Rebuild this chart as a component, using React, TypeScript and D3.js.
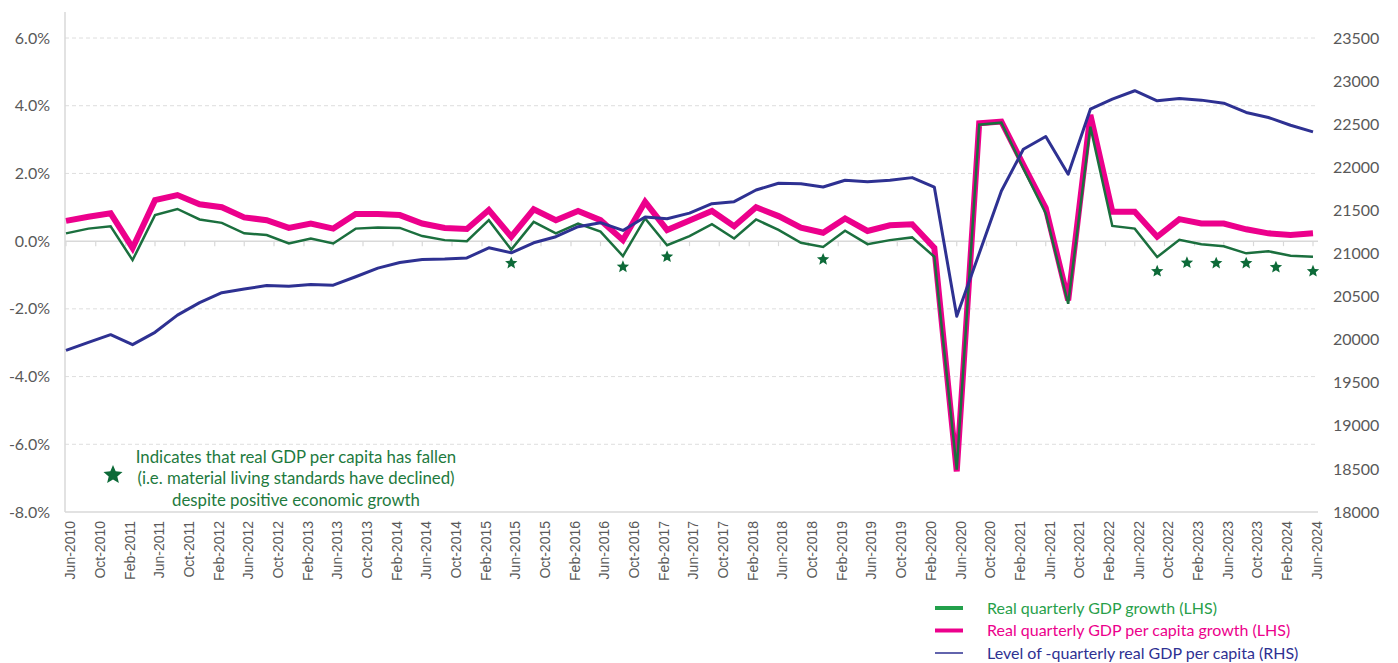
import React from "react";
import * as d3 from "d3";

// ---------- DATA ----------
const startQuarter = "2010-06";
const endQuarter = "2024-06";

// Real quarterly GDP growth (LHS, %)
const gdpGrowth = [
  0.23, 0.37, 0.44, -0.56, 0.77, 0.95, 0.64, 0.54, 0.23, 0.18,
  -0.07, 0.08, -0.07, 0.37, 0.40, 0.39, 0.15, 0.03, 0.00, 0.62,
  -0.25, 0.57, 0.23, 0.52, 0.28, -0.44, 0.67, -0.12, 0.15, 0.50,
  0.08, 0.64, 0.33, -0.05, -0.17, 0.31, -0.09, 0.03, 0.11, -0.46,
  -6.75, 3.44, 3.50, 2.15, 0.82, -1.85, 3.38, 0.45, 0.37, -0.47,
  0.04, -0.09, -0.15, -0.36, -0.30, -0.43, -0.46,
];

// Real quarterly GDP per capita growth (LHS, %)
const gdpPerCapitaGrowth = [
  0.60, 0.72, 0.82, -0.20, 1.21, 1.36, 1.09, 1.00, 0.70, 0.62,
  0.39, 0.52, 0.37, 0.80, 0.80, 0.77, 0.52, 0.39, 0.36, 0.92,
  0.13, 0.94, 0.62, 0.89, 0.62, 0.03, 1.16, 0.33, 0.61, 0.89,
  0.44, 1.00, 0.74, 0.40, 0.25, 0.67, 0.30, 0.47, 0.50, -0.20,
  -6.80, 3.48, 3.53, 2.25, 0.98, -1.75, 3.73, 0.87, 0.87, 0.13,
  0.65, 0.52, 0.52, 0.35, 0.23, 0.18, 0.23,
];

// Level of quarterly real GDP per capita (RHS)
const gdpPerCapitaLevel = [
  19876, 19969, 20058, 19942, 20085, 20285, 20430, 20545, 20588, 20628,
  20620, 20640, 20632, 20730, 20830, 20895, 20930, 20936, 20948, 21066,
  21008, 21124, 21194, 21310, 21357, 21267, 21422, 21403, 21468, 21578,
  21601, 21736, 21814, 21810, 21771, 21849, 21833, 21849, 21880, 21770,
  20271, 21000, 21724, 22209, 22357, 21919, 22674, 22791, 22888, 22771,
  22799, 22779, 22744, 22636, 22578, 22488, 22410,
];

// Star markers (per capita fell despite positive growth)
const starDates = ["2015-06", "2016-09", "2017-03", "2018-12", "2022-09", "2023-01", "2023-05", "2023-09", "2024-01", "2024-06"];
const starValues = [-0.65, -0.76, -0.46, -0.54, -0.89, -0.64, -0.65, -0.65, -0.77, -0.89];

const leftTicks = [-8, -6, -4, -2, 0, 2, 4, 6];
const rightTicks = [18000, 18500, 19000, 19500, 20000, 20500, 21000, 21500, 22000, 22500, 23000, 23500];

const seriesNames = [
  "Real quarterly GDP growth (LHS)",
  "Real quarterly GDP per capita growth (LHS)",
  "Level of -quarterly real GDP per capita (RHS)",
];

const annotationLines = [
  "Indicates that real GDP per capita has fallen",
  "(i.e. material living standards have declined)",
  "despite positive economic growth",
];

// ---------- STYLE ----------
const GREEN = "#1b6f3e";
const GREEN_LEGEND = "#22a04b";
const PINK = "#ec008c";
const BLUE = "#2e3192";
const STAR = "#0d6a38";
const GRID = "#dedede";
const AXIS = "#d9d9d9";
const LABEL = "#595959";

const parse = d3.utcParse("%Y-%m");
const fmt = d3.utcFormat("%b-%Y");

function starPath(cx: number, cy: number, r: number) {
  const pts: string[] = [];
  for (let k = 0; k < 10; k++) {
    const a = -Math.PI / 2 + (k * Math.PI) / 5;
    const rr = k % 2 === 0 ? r : r * 0.45;
    pts.push(`${cx + rr * Math.cos(a)},${cy + rr * Math.sin(a)}`);
  }
  return "M" + pts.join("L") + "Z";
}

export default function App() {
  const W = 1398;
  const H = 663;
  const left = 65;
  const right = 1318;
  const top = 38;
  const bottom = 512;

  const start = parse(startQuarter)!;
  const end = parse(endQuarter)!;
  const after = d3.utcMonth.offset(end, 1);
  const dates = d3.utcMonth.range(start, after, 3);

  const x = d3.scaleUtc().domain([start, end]).range([66, 1313]);
  const yL = d3.scaleLinear().domain([-8, 6]).range([bottom, top]);
  const yR = d3.scaleLinear().domain([18000, 23500]).range([bottom, top]);

  const tickDates = d3.utcMonth.range(start, after, 4);

  const lineL = d3
    .line<number>()
    .x((_, i) => x(dates[i]))
    .y((d) => yL(d));
  const lineR = d3
    .line<number>()
    .x((_, i) => x(dates[i]))
    .y((d) => yR(d));

  const font = "Lato, 'Open Sans', sans-serif";
  const axisFont = "'Liberation Sans', Arial, sans-serif";

  return (
    <div style={{ position: "absolute", left: 0, top: 0, width: W, height: H, background: "#fff" }}>
      <svg width={W} height={H} style={{ display: "block" }}>
        <rect x={0} y={0} width={W} height={H} fill="#fff" />
        {/* gridlines */}
        {leftTicks
          .filter((t) => t !== 0 && t !== -8)
          .map((t) => (
            <line key={"g" + t} x1={left} x2={right} y1={yL(t)} y2={yL(t)} stroke={GRID} strokeWidth={1} strokeDasharray="4,3" />
          ))}
        {/* bottom border */}
        <line x1={left} x2={right} y1={bottom} y2={bottom} stroke={AXIS} strokeWidth={1.5} />
        {/* left axis line */}
        <line x1={left} x2={left} y1={12} y2={bottom} stroke={AXIS} strokeWidth={1.5} />
        {/* zero axis with ticks */}
        <line x1={left} x2={right} y1={yL(0)} y2={yL(0)} stroke={AXIS} strokeWidth={1.5} />
        {tickDates.map((d, i) => (
          <line key={"t" + i} x1={x(d)} x2={x(d)} y1={yL(0)} y2={yL(0) + 5} stroke={AXIS} strokeWidth={1.2} />
        ))}

        {/* left labels */}
        {leftTicks.map((t) => (
          <text key={"l" + t} x={50} y={yL(t)} dy="0.35em" textAnchor="end" fontFamily={font} fontSize={16} fill={LABEL}>
            {t.toFixed(1) + "%"}
          </text>
        ))}
        {/* right labels */}
        {rightTicks.map((t) => (
          <text key={"r" + t} x={1333} y={yR(t)} dy="0.35em" textAnchor="start" fontFamily={font} fontSize={16} fill={LABEL}>
            {t}
          </text>
        ))}
        {/* x labels */}
        {tickDates.map((d, i) => (
          <text
            key={"x" + i}
            transform={`translate(${x(d) + 4},${521}) rotate(-90)`}
            textAnchor="end"
            dy="0.35em"
            fontFamily={axisFont}
            fontSize={14}
            fill={LABEL}
          >
            {fmt(d)}
          </text>
        ))}

        {/* series */}
        <path d={lineL(gdpPerCapitaGrowth) || ""} fill="none" stroke={PINK} strokeWidth={6} strokeLinejoin="miter" />
        <path d={lineL(gdpGrowth) || ""} fill="none" stroke={GREEN} strokeWidth={2.5} strokeLinejoin="miter" />
        <path d={lineR(gdpPerCapitaLevel) || ""} fill="none" stroke={BLUE} strokeWidth={3} strokeLinejoin="round" />

        {/* stars */}
        {starDates.map((s, i) => (
          <path key={"s" + i} d={starPath(x(parse(s)!), yL(starValues[i]), 6.5)} fill={STAR} />
        ))}

        {/* annotation */}
        <path d={starPath(113, 475, 10)} fill={STAR} />
        {annotationLines.map((t, i) => (
          <text key={"a" + i} x={296} y={457 + i * 21.5} dy="0.35em" textAnchor="middle" fontFamily={font} fontSize={16.8} fill="#1e7a3e">
            {t}
          </text>
        ))}

        {/* legend */}
        {seriesNames.map((n, i) => {
          const cy = 608 + i * 22.5;
          const col = [GREEN_LEGEND, PINK, BLUE][i];
          const sw = [4, 4, 1.5][i];
          const tc = ["#28a04a", PINK, BLUE][i];
          return (
            <g key={"lg" + i}>
              <line x1={935} x2={963} y1={cy} y2={cy} stroke={col} strokeWidth={sw} />
              <text x={987} y={cy} dy="0.35em" fontFamily={font} fontSize={16} fill={tc}>
                {n}
              </text>
            </g>
          );
        })}
      </svg>
    </div>
  );
}
